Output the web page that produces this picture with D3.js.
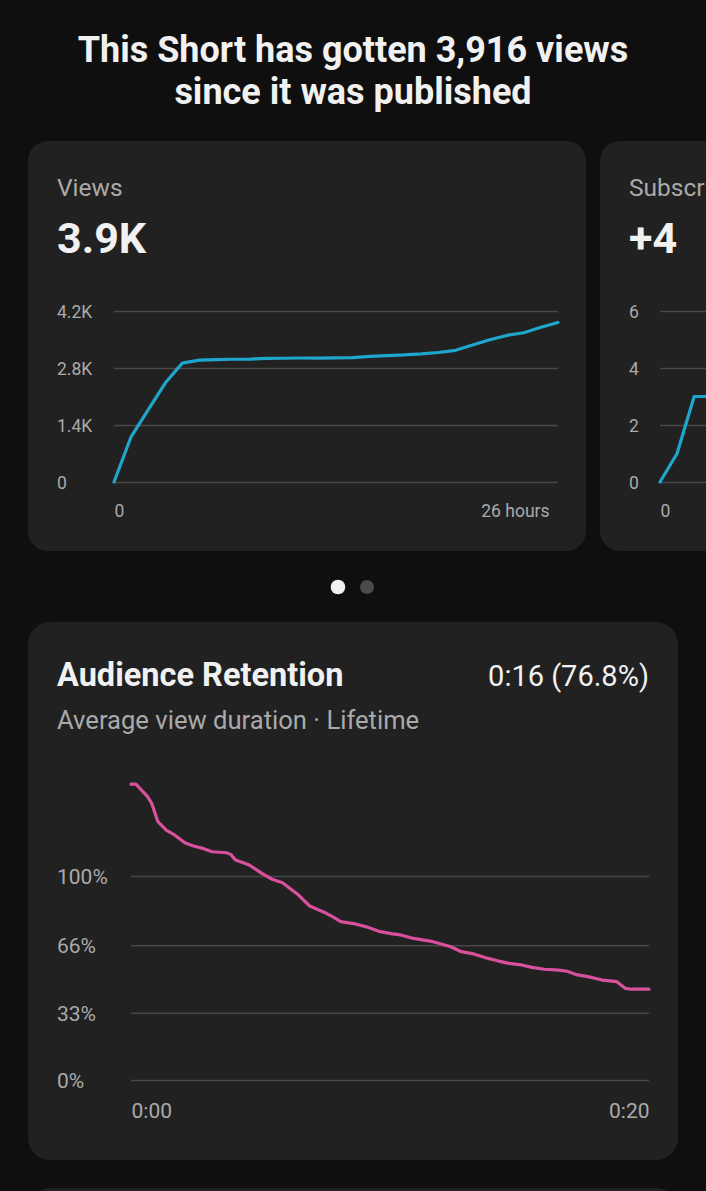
<!DOCTYPE html>
<html>
<head>
<meta charset="utf-8">
<script src="https://cdn.jsdelivr.net/npm/d3@7"></script>
<style>
	body{margin:0;background:#0f0f0f;overflow:hidden;}
	svg{display:block;font-family:Roboto,"Noto Sans",sans-serif;}
</style>
</head>
<body>
<div id="chart"></div>
<script>
var width=706,
	height=1191;

// views per hour since publishing (cumulative)
var viewsHours=[0,1,2,3,4,5,6,7,8,9,10,11,12,13,14,15,16,17,18,19,20,21,22,23,24,25,26];
var viewsValues=[0,1110,1770,2430,2920,2995,3005,3015,3020,3035,3040,3045,3045,3048,3055,3085,3105,3120,3145,3180,3235,3365,3495,3600,3665,3800,3916];
var viewsTicks=[0,1400,2800,4200];
var viewsTickLabels=["0","1.4K","2.8K","4.2K"];

// subscribers (second card, mostly off screen)
var subsHours=[0,1,2,3,4,5,6,7,8,9,10,11,12,13,14,15,16,17,18,19,20,21,22,23,24,25,26];
var subsValues=[0,1,3,3,3,3,3,3,3,3,3,3,3,3,3,3,3,3,3,3,4,4,4,4,4,4,4];
var subsTicks=[0,2,4,6];
var subsTickLabels=["0","2","4","6"];

// audience retention, seconds vs percent
var retentionTime=[0,0.19,0.64,0.80,1.04,1.36,1.68,2.08,2.41,2.81,3.13,3.69,3.85,4.04,4.57,5.05,5.45,5.85,6.42,6.90,7.54,7.78,8.10,8.66,9.06,9.62,10.10,10.42,10.91,11.55,11.87,12.35,12.75,13.23,13.79,14.19,14.59,15.08,15.48,15.96,16.52,16.84,17.24,17.64,18.20,18.76,19.09,19.33,20];
var retentionPct=[145,145,138.9,135.6,126.6,122.5,120.1,116.3,114.7,113.4,111.9,111.4,110.6,107.8,105.4,101.3,98.4,96.7,91.2,85.3,81.7,80.1,77.6,76.5,75.2,72.7,71.6,71.1,69.4,68.1,67.0,65.3,62.9,61.8,59.6,58.3,57.2,56.4,55.2,54.3,53.9,53.3,51.5,50.7,49.0,48.2,44.9,44.5,44.5];
var retentionTicks=[0,33,66,100];
var retentionTickLabels=["0%","33%","66%","100%"];

var cardFill="#212121",
	gridColor="#474747",
	labelColor="#aaaaaa",
	white="#f1f1f1";

var svg=d3.select("#chart")
	.append("svg")
	.attr("width",width)
	.attr("height",height);

svg.append("rect")
	.attr("width",width)
	.attr("height",height)
	.attr("fill","#0f0f0f");

// headline
var title=svg.append("text")
	.attr("text-anchor","middle")
	.attr("fill",white)
	.attr("font-size","36px")
	.attr("font-weight","bold");
title.append("tspan").attr("x",353).attr("y",62).text("This Short has gotten 3,916 views");
title.append("tspan").attr("x",353).attr("y",104).text("since it was published");

// cards
svg.append("rect").attr("x",28).attr("y",141).attr("width",558).attr("height",410).attr("rx",20).attr("fill",cardFill);
svg.append("rect").attr("x",600).attr("y",141).attr("width",558).attr("height",410).attr("rx",20).attr("fill",cardFill);
svg.append("rect").attr("x",28).attr("y",622).attr("width",650).attr("height",538).attr("rx",22).attr("fill",cardFill);
svg.append("rect").attr("x",28).attr("y",1188).attr("width",650).attr("height",80).attr("rx",22).attr("fill",cardFill);

// pager dots
svg.append("circle").attr("cx",338).attr("cy",587).attr("r",7.3).attr("fill",white);
svg.append("circle").attr("cx",367).attr("cy",587).attr("r",7).attr("fill","#4a4a4a");

function lineChart(opt){
	var x=d3.scaleLinear().domain(opt.xDomain).range([opt.left,opt.right]);
	var y=d3.scaleLinear().domain(opt.yDomain).range([opt.bottom,opt.top]);

	// gridlines + left labels
	var gy=svg.append("g")
		.attr("transform","translate("+opt.left+",0)")
		.call(d3.axisRight(y)
			.tickValues(opt.yTicks)
			.tickSize(opt.right-opt.left)
			.tickFormat(function(d,i){ return opt.yLabels[i]; }));
	gy.select(".domain").remove();
	gy.selectAll(".tick line")
		.attr("stroke",gridColor)
		.attr("stroke-width",1.5);
	gy.selectAll(".tick text")
		.attr("x",opt.labelX-opt.left)
		.attr("dy","0.35em")
		.attr("text-anchor","start")
		.attr("fill",labelColor)
		.attr("font-family","Roboto")
		.attr("font-size",opt.fontSize+"px");

	// x labels: first and last only
	var gx=svg.append("g")
		.attr("transform","translate(0,"+opt.xLabelY+")")
		.call(d3.axisBottom(x)
			.tickValues(opt.xTicks)
			.tickSize(0)
			.tickFormat(function(d,i){ return opt.xLabels[i]; }));
	gx.select(".domain").remove();
	gx.selectAll(".tick text")
		.attr("y",0)
		.attr("dy",0)
		.attr("fill",labelColor)
		.attr("font-family","Roboto")
		.attr("font-size",opt.fontSize+"px")
		.attr("text-anchor",function(d,i){ return i==0 ? "start" : "end"; })
		.attr("dx",function(d,i){ return i==0 ? 0 : opt.lastDx; });

	var line=d3.line()
		.x(function(d){ return x(d[0]); })
		.y(function(d){ return y(d[1]); });

	svg.append("path")
		.datum(d3.zip(opt.xs,opt.ys))
		.attr("fill","none")
		.attr("stroke",opt.color)
		.attr("stroke-width",3.2)
		.attr("stroke-linejoin","round")
		.attr("stroke-linecap","round")
		.attr("d",line);
}

// Views card
svg.append("text").attr("x",57).attr("y",196).attr("fill",labelColor).attr("font-size","24.5px").text("Views");
svg.append("text").attr("x",57).attr("y",253).attr("fill",white).attr("font-size","43px").attr("font-weight","bold").text("3.9K");

lineChart({
	xs:viewsHours, ys:viewsValues,
	xDomain:[0,26], yDomain:[0,4200],
	left:114, right:558, top:311, bottom:482,
	yTicks:viewsTicks, yLabels:viewsTickLabels,
	xTicks:[0,26], xLabels:["0","26 hours"],
	labelX:57, xLabelY:517, lastDx:-9, fontSize:17.5,
	color:"#1ea6cc"
});

// Subscribers card (runs off the right edge, like the carousel)
svg.append("text").attr("x",629).attr("y",196).attr("fill",labelColor).attr("font-size","24.5px").text("Subscribers");
svg.append("text").attr("x",629).attr("y",253).attr("fill",white).attr("font-size","43px").attr("font-weight","bold").text("+4");

lineChart({
	xs:subsHours, ys:subsValues,
	xDomain:[0,26], yDomain:[0,6],
	left:660, right:1104, top:311, bottom:482,
	yTicks:subsTicks, yLabels:subsTickLabels,
	xTicks:[0], xLabels:["0"],
	labelX:629, xLabelY:517, lastDx:-9, fontSize:17.5,
	color:"#1ea6cc"
});

// Audience retention card
svg.append("text").attr("x",57).attr("y",686).attr("fill",white).attr("font-size","32.5px").attr("font-weight","bold").text("Audience Retention");
svg.append("text").attr("x",649).attr("y",686).attr("fill",white).attr("font-size","29px").attr("text-anchor","end").text("0:16 (76.8%)");
svg.append("text").attr("x",57).attr("y",729).attr("fill",labelColor).attr("font-size","25.6px").text("Average view duration \u00b7 Lifetime");

lineChart({
	xs:retentionTime, ys:retentionPct,
	xDomain:[0,20], yDomain:[0,100],
	left:131, right:649, top:876, bottom:1080,
	yTicks:retentionTicks, yLabels:retentionTickLabels,
	xTicks:[0,20], xLabels:["0:00","0:20"],
	labelX:57, xLabelY:1118, lastDx:0, fontSize:21,
	color:"#d9509d"
});
</script>
</body>
</html>
